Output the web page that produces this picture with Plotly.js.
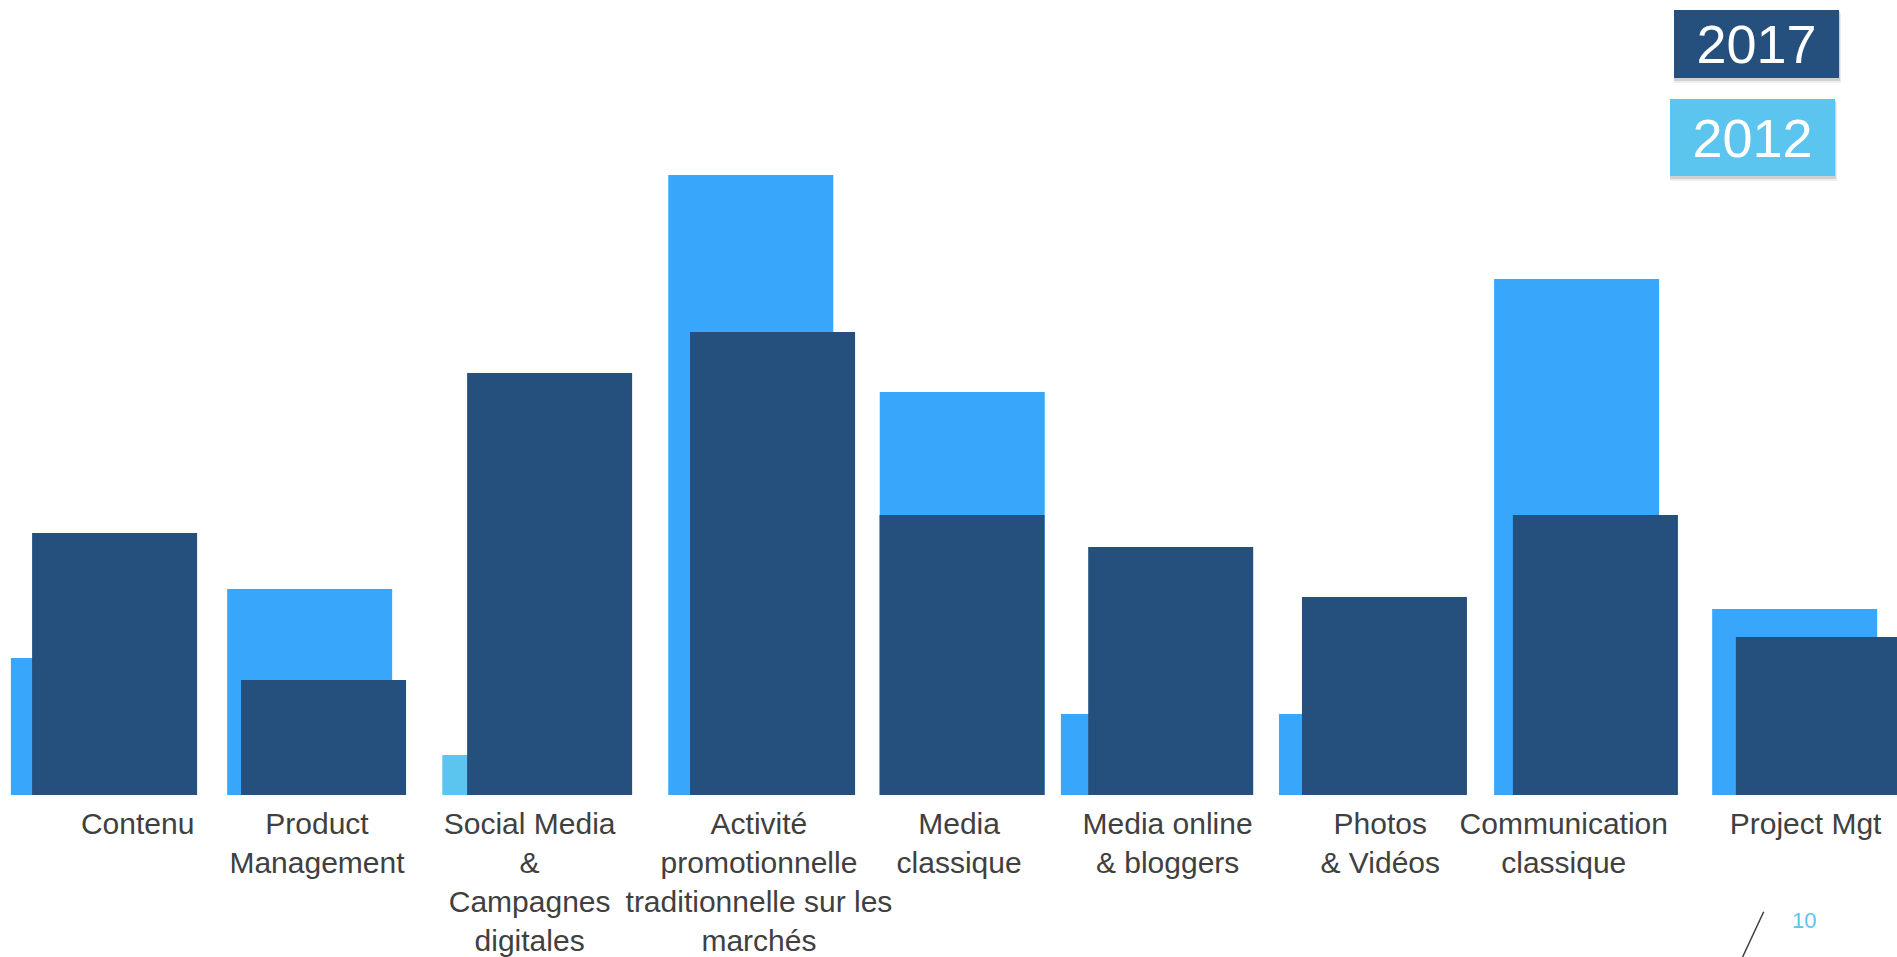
<!DOCTYPE html>
<html>
<head>
<meta charset="utf-8">
<script src="https://cdn.plot.ly/plotly-3.0.1.min.js"></script>
<style>
  html, body { margin: 0; padding: 0; background: #ffffff; }
  #chart { width: 1897px; height: 957px; }
</style>
</head>
<body>
<div id="chart"></div>
<script>
// ---------- DATA ----------
const categories = [
  "Contenu",
  "Product<br>Management",
  "Social Media<br>&<br>Campagnes<br>digitales",
  "Activité<br>promotionnelle<br>traditionnelle sur les<br>marchés",
  "Media<br>classique",
  "Media online<br>& bloggers",
  "Photos<br>& Vidéos",
  "Communication<br>classique",
  "Project Mgt"
];
const seriesNames = ["2012", "2017"];
const values2012 = [13.7, 20.6, 4.0, 62.0, 40.3, 8.1, 8.1, 51.6, 18.6];
const values2017 = [26.2, 11.5, 42.2, 46.3, 28.0, 24.8, 19.8, 28.0, 15.8];
const pageNumber = "10";

// ---------- STYLE ----------
const W = 1897, H = 957, MB = 162, PH = H - MB;
const PX = 212.66;             // px per category slot
const BAR_W = 165 / PX;
const DARK = "#254F7D";
const LIGHT = "#38A6FB";
const LIGHT2 = "#5BC5F0";
const colors2012 = categories.map((c, i) => i === 2 ? LIGHT2 : LIGHT);
// hand-placed slide layout: left edge of each bar relative to its slot centre (px)
const offset2012px = [-93.4, -89.8, -87.3, -74.0, -75.2, -106.7, -101.3, -98.8, -93.4];
const offset2017px = [-72.2, -75.9, -62.5, -52.2, -75.4, -79.4, -78.3, -80.0, -69.7];
const labelPad = [8, 0, 0, 4, 1, 0, 0, -7, 0];  // nbsp padding (neg = trailing)
const FONT = "Liberation Sans, Arial, sans-serif";

const nb = n => "\u00a0".repeat(Math.abs(n));
const ticktext = categories.map((c, i) => {
  const p = labelPad[i];
  if (!p) return c;
  return c.split("<br>").map(l => p > 0 ? nb(p) + l : l + nb(p)).join("<br>");
});

const px = x => x / W;
const py = y => (PH - y) / PH;

const traces = [
  {
    type: "bar", name: seriesNames[0], x: categories, y: values2012,
    width: BAR_W, offset: offset2012px.map(v => v / PX),
    marker: { color: colors2012, line: { width: 0 } },
    hoverinfo: "skip"
  },
  {
    type: "bar", name: seriesNames[1], x: categories, y: values2017,
    width: BAR_W, offset: offset2017px.map(v => v / PX),
    marker: { color: DARK, line: { width: 0 } },
    hoverinfo: "skip"
  }
];

function shadowRects(x0, y0, x1, y1) {
  return [
    { type: "rect", xref: "paper", yref: "paper", layer: "below",
      x0: px(x0 + 1), x1: px(x1 + 2), y0: py(y1 + 5), y1: py(y0 + 3),
      fillcolor: "rgba(0,0,0,0.07)", line: { width: 0 } },
    { type: "rect", xref: "paper", yref: "paper", layer: "below",
      x0: px(x0 + 1), x1: px(x1 + 1), y0: py(y1 + 3), y1: py(y0 + 2),
      fillcolor: "rgba(0,0,0,0.12)", line: { width: 0 } }
  ];
}

const layout = {
  width: W, height: H,
  margin: { l: 0, r: 0, t: 0, b: MB, pad: 0 },
  paper_bgcolor: "#ffffff", plot_bgcolor: "#ffffff",
  barmode: "overlay",
  showlegend: false,
  hovermode: false,
  font: { family: FONT, color: "#404040" },
  xaxis: {
    type: "category",
    range: [-104.3 / PX, (W - 104.3) / PX],
    tickvals: categories, ticktext: ticktext,
    showgrid: false, zeroline: false, showline: false, ticks: "",
    tickfont: { family: FONT, size: 30, color: "#404040" },
    ticklabelstandoff: 8,
    tickangle: 0, automargin: false
  },
  yaxis: {
    range: [0, PH / 10],
    visible: false, showgrid: false, zeroline: false, fixedrange: true
  },
  shapes: [
    ...shadowRects(1673, 10, 1839, 78),
    ...shadowRects(1669, 99, 1835, 176),
    { type: "line", xref: "paper", yref: "paper",
      x0: px(1763.7), y0: py(911.7), x1: px(1742.6), y1: py(957),
      line: { color: "#404040", width: 1.5 } }
  ],
  annotations: [
    { xref: "paper", yref: "paper", x: px(1756), y: py(43.9),
      xanchor: "center", yanchor: "middle", showarrow: false,
      text: seriesNames[1], width: 165, height: 68, borderpad: 0, borderwidth: 0,
      bgcolor: DARK, font: { family: FONT, size: 54, color: "#ffffff" } },
    { xref: "paper", yref: "paper", x: px(1752), y: py(137.4),
      xanchor: "center", yanchor: "middle", showarrow: false,
      text: seriesNames[0], width: 165, height: 77, borderpad: 0, borderwidth: 0,
      bgcolor: LIGHT2, font: { family: FONT, size: 54, color: "#ffffff" } },
    { xref: "paper", yref: "paper", x: px(1804), y: py(920),
      xanchor: "center", yanchor: "middle", showarrow: false,
      text: pageNumber, font: { family: FONT, size: 22, color: LIGHT2 } }
  ]
};

Plotly.newPlot("chart", traces, layout, { displayModeBar: false, staticPlot: true });
</script>
</body>
</html>
